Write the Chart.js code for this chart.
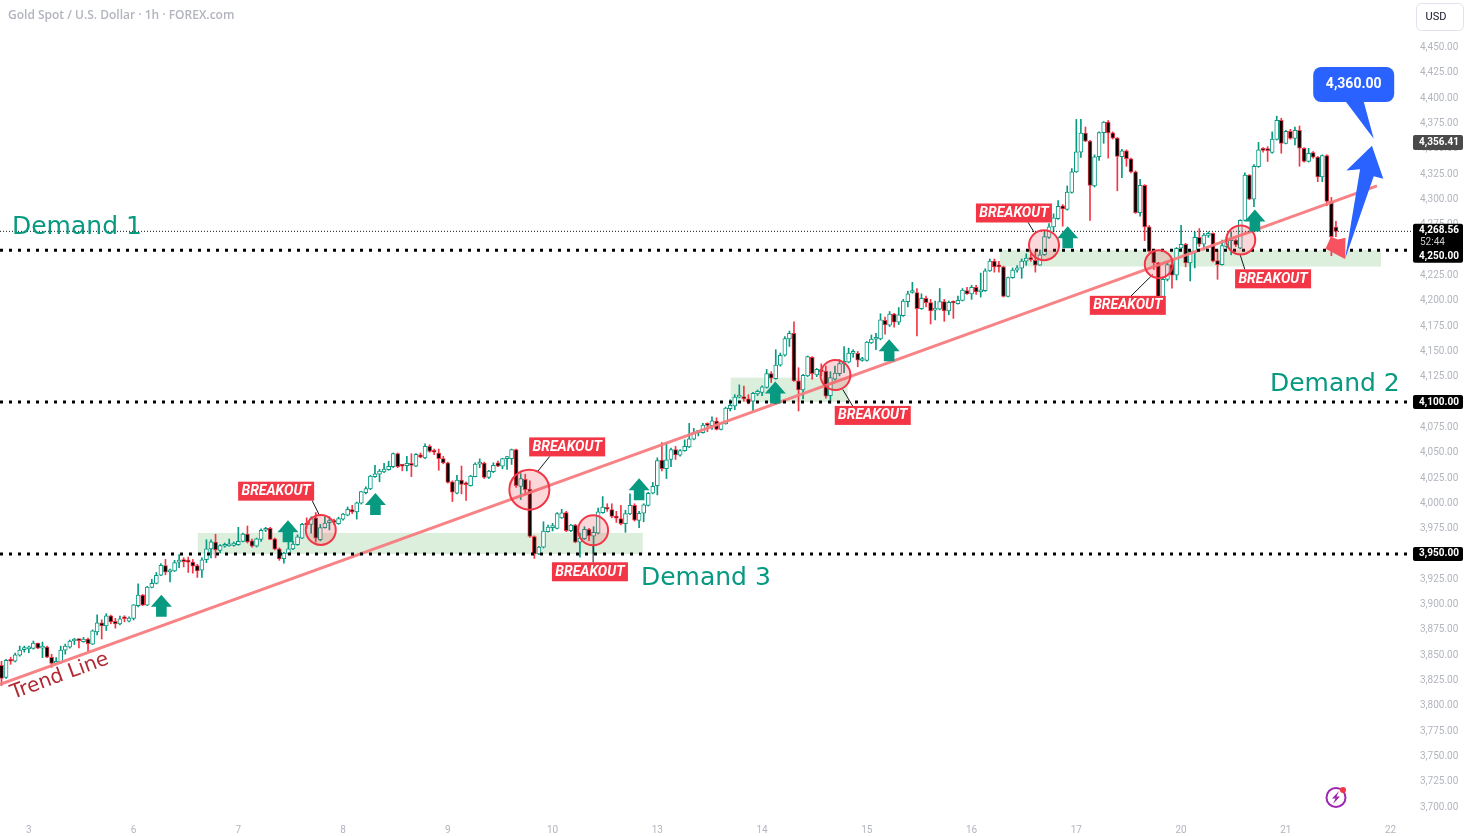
<!DOCTYPE html>
<html>
<head>
<meta charset="utf-8">
<title>Gold Spot / U.S. Dollar</title>
<script src="https://cdn.jsdelivr.net/npm/chart.js@4"></script>
<style>
  html, body { margin: 0; padding: 0; background: #fff; overflow: hidden; }
  canvas { display: block; }
</style>
</head>
<body>
<canvas id="chart" width="1468" height="836"></canvas>
<script>
// hourly candles, oldest first
const opens = [
  3840,3828,3845,3844,3850,3855.5,3856.3,3856.6,3862,3857,
  3858,3848,3842,3843,3855,3858,3864,3864.7,3863.4,3866,
  3861,3873,3882,3879,3889,3883.5,3881,3886.4,3883.5,3886.4,
  3899,3909.4,3899.3,3917,3921,3929,3938.5,3932.3,3933.3,3942,
  3942.7,3942.4,3942,3938.5,3934,3944.3,3955,3961.8,3953.4,3957.6,
  3957.9,3958.5,3959.2,3962.4,3969.5,3963,3957.6,3964.4,3973.4,3975.4,
  3965,3955,3945.3,3950.4,3955,3959.2,3965.7,3979.2,3979.2,3985.7,
  3964,3976,3980.9,3981.8,3980,3984.4,3988.3,3993.8,3991.5,4000.2,
  4010.5,4014.1,4026.4,4028.7,4031,4033.2,4036.1,4049,4037,4037.1,
  4039.4,4036.8,4047.8,4044.9,4056.2,4051.3,4049.7,4044.2,4040,4021.3,
  4009.9,4022.9,4019.3,4017.4,4026.4,4038.7,4039.7,4025.5,4031.3,4040,
  4036.8,4044.2,4044.2,4053,4016.7,4023.8,4014.1,3967.2,3950.1,3956.6,
  3972,3976,3975.3,3985.7,3990.8,3973,3978.6,3961.7,3965,3974.3,
  3967.5,3970.5,3990.8,3995.7,3993.8,3987,3985,3979.8,3989.6,3998,
  3983.1,3990.2,3998,4009.9,4017.4,4042.6,4034.2,4043.3,4053,4047.5,
  4052,4055.6,4063.3,4069.8,4069.8,4077.3,4076.6,4081.1,4073,4078.5,
  4093.4,4096.3,4104.8,4105.4,4103.1,4100.9,4108,4109.6,4114.5,4128,
  4123.2,4136.5,4146.2,4162.3,4167.8,4120.9,4111.9,4125.8,4144.2,4126.7,
  4131.3,4130.6,4106.4,4122.5,4128,4137.7,4139.4,4148.1,4148.1,4141,
  4141,4158.5,4162,4162.3,4180.8,4176,4186.8,4178.8,4185.2,4199.1,
  4208.2,4208.2,4192.3,4202.4,4198.2,4190.7,4191.7,4199.1,4190.1,4198.5,
  4197.2,4200.4,4210.1,4206.9,4213.4,4208.8,4209.9,4229.6,4239.3,4234.2,
  4233.5,4204.4,4222.8,4230.3,4232.2,4239,4242.2,4240,4235.1,4245.5,
  4262.6,4273,4281,4293.7,4290.1,4306.9,4327.3,4346.7,4365.5,4357.7,
  4313.4,4342.2,4366.1,4376.5,4365.8,4360.6,4342.2,4348,4340.3,4327.3,
  4286.9,4314,4273,4248.7,4237.4,4201.8,4221.2,4235.8,4225.4,4251.9,
  4255.8,4237.4,4248,4262.6,4255.8,4264.5,4266.5,4239.6,4235.7,4253.5,
  4259.4,4260,4251.9,4279.4,4324.1,4300.4,4332.5,4349,4349,4346.4,
  4359.3,4378.1,4355.4,4367.4,4360.3,4368.4,4350.6,4337.6,4346.4,4341.9,
  4322.4,4343.5,4298.2,4272.9
];
const highs = [
  3844,3846,3848,3852,3859,3859,3859,3864,3862,3863,
  3859,3851,3847.6,3859,3861,3865,3866.7,3865.4,3867.6,3867,
  3875,3890,3885,3891,3889.6,3886.4,3888.7,3889,3888,3900,
  3920.4,3910,3918,3925,3931.7,3940.4,3944.6,3935,3943.7,3949.5,
  3946.2,3946.9,3944.6,3939.8,3946.2,3964,3964,3969.5,3959.2,3960.8,
  3964.7,3961.8,3976.3,3970.5,3977.6,3964.7,3965.7,3974.7,3976.3,3976.3,
  3965.7,3956,3951.7,3962.4,3962.4,3968.9,3980.2,3985.7,3986.7,3990.9,
  3979.2,3986.7,3986.7,3984.4,3986.4,3990,3996.4,3998,4001.2,4011.9,
  4016.4,4027.7,4037.4,4033.5,4039.4,4041.6,4049.7,4049.7,4037.7,4046.5,
  4049,4049,4049.7,4058.8,4057.8,4053.6,4053.6,4046.5,4040.7,4022.2,
  4027.7,4036.8,4021.3,4027.7,4040,4043.9,4040.7,4032.6,4040,4041.6,
  4044.5,4046.5,4053.6,4053.6,4029.3,4028.7,4022.2,3967.9,3957.5,3981.8,
  3978.6,3980.2,3990.8,3994.1,3992.1,3979.2,3979.2,3970.5,3976.9,3975.3,
  3976.9,3995.4,4006.7,3999.6,3999.6,3992.1,3998,3993.1,4009.3,3999.6,
  3992.1,3999.6,4010.9,4020.6,4044.9,4060.1,4059.8,4054.6,4056.2,4053,
  4062.7,4078.9,4074,4071.8,4078.9,4079.5,4085.3,4084.4,4079.5,4095,
  4102.2,4107.3,4117,4115.7,4107.3,4109.6,4111.9,4116.1,4132.2,4130,
  4151.7,4148.4,4164.6,4170.1,4179.2,4133.9,4127.4,4145.5,4144.9,4133.2,
  4137.7,4135.5,4130,4135.5,4142,4154.9,4153.3,4151.7,4150,4144.2,
  4159.7,4166.2,4167.8,4187.2,4184,4189.4,4187.5,4193.3,4201.4,4209.5,
  4218.2,4212.1,4206.9,4204.6,4201.4,4199.8,4212.1,4201.4,4199.8,4199.8,
  4204.6,4212.1,4213.4,4215.3,4215.3,4227.3,4231.6,4241.3,4241.3,4239,
  4234.2,4223.5,4232.5,4234.8,4241.3,4246.4,4246.4,4248.7,4250.3,4268.1,
  4276.2,4285.9,4298.9,4295,4313.4,4330.6,4379.1,4379.1,4371.6,4358.4,
  4344.1,4366.8,4377.1,4378.1,4366.8,4361.3,4349.6,4349,4340.9,4328.3,
  4319.9,4314.7,4274.3,4249.3,4238,4222.8,4237.4,4240,4252.6,4274.6,
  4256.8,4250.3,4268.1,4271.3,4266.5,4268.1,4267.1,4250.3,4260,4262.6,
  4268.1,4261,4280,4326.3,4324.7,4334.4,4356.4,4351.2,4352.2,4366.8,
  4382.3,4380.3,4368.4,4369.3,4371.6,4372.6,4351.2,4350.6,4347.4,4342.5,
  4344.1,4344.1,4302.1,4278.4
];
const lows = [
  3820,3827,3841,3843.5,3849,3853,3852.4,3856,3856.5,3847.6,
  3847.6,3838,3842,3842,3851,3857,3860.5,3857.3,3862.8,3854,
  3860.5,3870,3866,3874.4,3881,3876.7,3880,3883,3883,3884.8,
  3897.7,3899,3899,3916.5,3920.4,3928.5,3929.4,3922.3,3932.6,3936.5,
  3937.2,3931.7,3931,3926.8,3926.8,3941.4,3946.2,3946.2,3951,3956.6,
  3957.6,3957.6,3958.5,3961.8,3960.8,3956.6,3956.9,3962.4,3972,3964,
  3954,3943.7,3941,3949.5,3954.3,3958.5,3965,3975.4,3970.5,3961.8,
  3963,3975.4,3973.7,3979.2,3979.2,3983.4,3987.6,3989.9,3984.4,3999.3,
  4009.3,4013.5,4025.5,4021.3,4030.3,4032.6,4035.2,4035.2,4032,4031.9,
  4026.4,4036.1,4044.9,4044.2,4050.4,4048.1,4032.6,4039,4020,4001.8,
  4009.3,4009.3,4002.8,4017,4026.1,4035.2,4024.5,4024.5,4030.3,4036.1,
  4034.2,4033.5,4038.4,4015.8,4003.8,4008.3,3966.3,3945.6,3949.4,3955.9,
  3971.4,3972.7,3974.7,3985,3972,3972,3961,3946.8,3964.3,3963,
  3950,3969.8,3990.2,3992.1,3985.7,3981.1,3978.6,3971.4,3988.9,3982.4,
  3976,3981.8,3997.3,4009.3,4008.3,4032,4024.5,4036.2,4043.3,4046.5,
  4051.4,4055,4062.7,4066.6,4069.2,4070.8,4073,4072.4,4072.4,4078.2,
  4091.2,4092.5,4104.1,4100.9,4098.3,4091.2,4106.4,4106.4,4113.8,4119.3,
  4122.5,4135.5,4145.2,4154.9,4120.3,4091.2,4103.1,4125.1,4122.5,4125.1,
  4125.8,4103.8,4098.9,4121.6,4125.8,4129,4138.7,4144.2,4134.8,4140.3,
  4140.3,4157.8,4151.7,4161.4,4167,4174.6,4173.9,4176.5,4184.6,4194,
  4207.5,4165.2,4191.4,4194,4177.1,4181,4191,4179.7,4186.2,4182.6,
  4196.6,4199.8,4206.3,4201.4,4206.3,4203.7,4209.2,4229,4228.3,4228.3,
  4203.7,4203.7,4222.2,4228.3,4222.2,4235.1,4239,4228.3,4234.8,4244.8,
  4261.6,4268.1,4280.4,4273.6,4289.5,4306.3,4326.7,4341.6,4357.1,4279.4,
  4312.4,4338.6,4355.5,4340.9,4359.7,4308.6,4321.5,4332.8,4326.3,4286.2,
  4283.6,4259.4,4248,4230.9,4200.2,4187.2,4219.6,4212.5,4220.6,4250.3,
  4233.5,4219.6,4232.5,4253.5,4250.3,4262.6,4238.3,4221.2,4235.1,4251.9,
  4245.4,4253.5,4251.3,4278.8,4299.8,4293,4331.8,4346.7,4337.6,4345.7,
  4358.7,4345.7,4354.8,4359.6,4353.8,4332.8,4337,4337,4340.9,4317.6,
  4317.6,4294,4244.5,4263.2
];
const closes = [
  3827,3845,3844,3850.5,3855,3856.5,3857,3862,3857,3858,
  3848,3842,3843.4,3855,3859,3864,3864.7,3864.4,3866,3861.5,
  3874,3882,3879,3889,3883,3881,3886,3886,3886.7,3899.7,
  3909.4,3899.3,3917.4,3921,3929,3938.8,3932,3934,3941.4,3942.7,
  3942.4,3942,3938,3933.3,3944.3,3955,3962,3954,3958.2,3958.5,
  3958.5,3960.8,3962.4,3969.5,3962,3957.6,3965,3973.4,3975.4,3964.4,
  3954.6,3945,3950.8,3955,3959.8,3967,3979.2,3978.6,3985,3965.7,
  3976,3980.5,3981.8,3981.2,3985,3989.3,3994,3991.5,4000.5,4011.5,
  4014.5,4026.8,4029,4031.9,4033.9,4036.5,4049,4036.1,4036.8,4039.4,
  4037.4,4048.4,4045.5,4056.2,4051.3,4050.4,4044.2,4040,4020.6,4010.9,
  4022.9,4018.7,4018.3,4026.8,4038.7,4040,4025.5,4031.9,4037.4,4036.8,
  4044.2,4044.9,4053,4017.4,4024.5,4013.5,3967.2,3950.1,3956.9,3972.7,
  3976.6,3976.9,3989.9,3990.5,3973,3978.6,3961.7,3965.6,3974.3,3967.9,
  3971.4,3991.5,3996.4,3994.1,3987,3985.3,3979.8,3989.9,3998,3983.4,
  3990.2,3998.6,4009.9,4016.7,4042.3,4034.2,4043,4053,4047.8,4052,
  4056.2,4063.7,4069.8,4070.5,4077.3,4076.9,4081.5,4073,4078.9,4094.1,
  4096.7,4104.8,4105.4,4103.1,4099.9,4108.6,4110.6,4115.1,4128,4123.5,
  4136.5,4146.2,4162.7,4167.8,4120.9,4111.9,4126.4,4144.9,4128,4132.2,
  4130,4105.7,4124.2,4128.7,4138,4140.3,4148.4,4148.7,4141.3,4141.6,
  4159.1,4162.3,4163,4181.1,4176.2,4186.8,4178.8,4186.2,4199.8,4206.9,
  4208.8,4192.3,4202.4,4198.2,4190.1,4191.7,4199.1,4190.1,4198.5,4197.8,
  4200.4,4210.5,4206.9,4213.4,4208.8,4210.5,4229.6,4239.3,4233.5,4233.5,
  4204.4,4222.8,4230.3,4232.5,4239.3,4242.2,4240.6,4235.1,4245.5,4263.3,
  4273,4282,4293.3,4290.8,4307.3,4327.3,4347,4365.5,4357.7,4314,
  4342.2,4366.1,4376.5,4365.8,4360.6,4342.5,4348,4340.3,4327.3,4286.9,
  4314,4273,4248.7,4237.4,4201.8,4221.2,4235.8,4225.4,4251.9,4255.8,
  4237.4,4248.7,4262.6,4255.8,4264.9,4266.5,4239,4235.7,4254.5,4260,
  4261.6,4255.2,4279.4,4324.1,4300.4,4332.8,4349,4348.6,4348.3,4359.6,
  4378.1,4355.4,4367.4,4360.3,4368.4,4350.6,4337.6,4345.7,4341.9,4322.4,
  4343.5,4298.2,4263.2,4268.56
];

// time axis: candle index where each day starts, and its label
const dayIndex = [6, 29, 52, 75, 98, 121, 144, 167, 190, 213, 236, 259, 282, 305];
const dayLabels = ['3', '6', '7', '8', '9', '10', '13', '14', '15', '16', '17', '20', '21', '22'];
const priceTicks = [
  3700,3725,3750,3775,3800,3825,3850,3875,3900,3925,3950,3975,4000,4025,4050,4075,
  4100,4125,4150,4175,4200,4225,4250,4275,4300,4325,4350,4375,4400,4425,4450
];

const lastPrice = 4268.56;
const prevHigh = 4356.41;
const targetPrice = 4360;
const supportLevels = [4250, 4100, 3950];
const trendIdx = [-0.33, 302];
const trendPrice = [3821.3, 4313.4];

// drawings, all anchored as [candle index, price]
const zones = [[43.1, 140.8, 3970.8, 3950], [160.1, 185.8, 4124.1, 4100], [219.2, 302.9, 4250, 4233.8]];
const circles = [
  [70.1, 3973.7, 15], [115.9, 4013.5, 20], [129.9, 3973.4, 15], [183.1, 4126.7, 15],
  [228.9, 4254.9, 15], [254.1, 4236.2, 14], [272.1, 4260, 14.5]
];
const breakoutTags = [
  [60.3, 4012], [124.2, 4055.7], [129.2, 3932.4], [191.3, 4086.8],
  [222.3, 4286.7], [247.3, 4195.5], [279.2, 4221.7]
];
const leaders = [
  [68.2, 4002.8, 69.9, 3987.3], [120.4, 4046.5, 117.8, 4031.9], [129.9, 3958.1, 129.9, 3941.6],
  [184.7, 4112.5, 186.9, 4096], [225.4, 4277.5, 226.7, 4267.8], [248, 4204.7, 252.8, 4226],
  [271.9, 4246.4, 273, 4230.9]
];
const upArrows = [
  [35.1, 3909.6], [62.9, 3983.4], [82.1, 4010.3], [140, 4024.8],
  [169.9, 4120.2], [194.9, 4162], [234.1, 4273.6], [275.2, 4290.1]
];
const demandLabels = [['Demand 1', 2.3, 4272], ['Demand 2', 278.5, 4117], ['Demand 3', 140.4, 3926]];
const blueArrow = [[295, 4241.3], [298.3, 4329.9], [295.3, 4328.6], [300.9, 4353.2], [303.4, 4320.5], [301.3, 4323.1]];
const pinkArrow = [[291.9, 4263.2], [293.4, 4260.5], [295.1, 4262.2], [295, 4241.3], [290.7, 4251.3]];
const calloutAnchor = [296.9, 4413.6];

const UP = '#089981';
const DOWN = '#f23645';
const AXIS_TEXT = '#b2b5be';

const idx = opens.map((_, i) => i);
const isUp = i => closes[i] >= opens[i];
const fmt = v => v.toLocaleString('en-US', { minimumFractionDigits: 2, maximumFractionDigits: 2 });

// everything that isn't a candle or a straight line goes on the canvas here
const zonesPlugin = {
    id: 'zones',
    beforeDatasetsDraw(chart) {
        const { ctx, scales: { x, y } } = chart;
        ctx.save();
        ctx.fillStyle = 'rgba(76, 175, 80, 0.2)';
        zones.forEach(z => {
            ctx.fillRect(x.getPixelForValue(z[0]), y.getPixelForValue(z[2]),
                x.getPixelForValue(z[1]) - x.getPixelForValue(z[0]),
                y.getPixelForValue(z[3]) - y.getPixelForValue(z[2]));
        });
        ctx.restore();
    }
};

function poly(ctx, x, y, pts, color) {
    ctx.fillStyle = color;
    ctx.beginPath();
    pts.forEach((p, i) => {
        const px = x.getPixelForValue(p[0]), py = y.getPixelForValue(p[1]);
        if (i === 0) ctx.moveTo(px, py); else ctx.lineTo(px, py);
    });
    ctx.closePath();
    ctx.fill();
}

function badge(ctx, top, h, color) {
    ctx.fillStyle = color;
    ctx.beginPath();
    ctx.roundRect(1413, top, 50, h, 2);
    ctx.fill();
}

const drawingsPlugin = {
    id: 'drawings',
    afterDatasetsDraw(chart) {
        const { ctx, scales: { x, y } } = chart;
        ctx.save();

        // leader lines from the tags to the circles
        ctx.strokeStyle = '#131722';
        ctx.lineWidth = 1;
        leaders.forEach(l => {
            ctx.beginPath();
            ctx.moveTo(x.getPixelForValue(l[0]), y.getPixelForValue(l[1]));
            ctx.lineTo(x.getPixelForValue(l[2]), y.getPixelForValue(l[3]));
            ctx.stroke();
        });

        circles.forEach(c => {
            ctx.beginPath();
            ctx.arc(x.getPixelForValue(c[0]), y.getPixelForValue(c[1]), c[2], 0, Math.PI * 2);
            ctx.fillStyle = 'rgba(242, 54, 69, 0.2)';
            ctx.fill();
            ctx.strokeStyle = DOWN;
            ctx.lineWidth = 2;
            ctx.stroke();
        });

        // green up arrows
        ctx.fillStyle = UP;
        upArrows.forEach(a => {
            const px = x.getPixelForValue(a[0]), py = y.getPixelForValue(a[1]);
            ctx.beginPath();
            ctx.moveTo(px, py);
            ctx.lineTo(px + 10.5, py + 12);
            ctx.lineTo(px + 5.3, py + 12);
            ctx.lineTo(px + 5.3, py + 22);
            ctx.lineTo(px - 5.3, py + 22);
            ctx.lineTo(px - 5.3, py + 12);
            ctx.lineTo(px - 10.5, py + 12);
            ctx.closePath();
            ctx.fill();
        });

        ctx.textAlign = 'center';
        ctx.textBaseline = 'middle';

        breakoutTags.forEach(t => {
            const px = x.getPixelForValue(t[0]), py = y.getPixelForValue(t[1]);
            ctx.fillStyle = DOWN;
            ctx.fillRect(px - 38, py - 9.5, 76, 19);
            ctx.fillStyle = '#fff';
            ctx.font = 'italic 700 14px Roboto';
            ctx.fillText('BREAKOUT', px, py + 0.5);
        });

        ctx.fillStyle = UP;
        ctx.font = '25px "DejaVu Sans"';
        demandLabels.forEach(d => {
            ctx.textAlign = 'left';
            ctx.fillText(d[0], x.getPixelForValue(d[1]), y.getPixelForValue(d[2]));
        });

        // label running along the trend line
        ctx.save();
        ctx.translate(x.getPixelForValue(12.8), y.getPixelForValue(3829));
        ctx.rotate(-20.2 * Math.PI / 180);
        ctx.textAlign = 'center';
        ctx.fillStyle = '#b22833';
        ctx.font = '20px "DejaVu Sans"';
        ctx.fillText('Trend Line', 0, 0);
        ctx.restore();

        poly(ctx, x, y, pinkArrow, '#f7525f');
        poly(ctx, x, y, blueArrow, '#2962ff');

        // target callout with its pointer
        const cx = x.getPixelForValue(calloutAnchor[0]), cy = y.getPixelForValue(calloutAnchor[1]);
        ctx.fillStyle = '#2962ff';
        ctx.beginPath();
        ctx.roundRect(cx - 40.5, cy - 17.5, 81, 35, 8);
        ctx.fill();
        ctx.beginPath();
        ctx.moveTo(cx - 8, cy + 17);
        ctx.lineTo(x.getPixelForValue(301.3), y.getPixelForValue(targetPrice));
        ctx.lineTo(cx + 10, cy + 17);
        ctx.closePath();
        ctx.fill();
        ctx.fillStyle = '#fff';
        ctx.textAlign = 'center';
        ctx.font = '700 14px Roboto';
        ctx.fillText(fmt(targetPrice), cx, cy);

        // header text
        ctx.textAlign = 'left';
        ctx.fillStyle = AXIS_TEXT;
        ctx.font = '600 12px "Open Sans"';
        ctx.fillText('Gold Spot / U.S. Dollar · 1h · FOREX.com', 8, 16);

        // currency button over the top of the price axis
        ctx.fillStyle = '#fff';
        ctx.strokeStyle = '#e0e3eb';
        ctx.lineWidth = 1;
        ctx.beginPath();
        ctx.roundRect(1416.5, 3.5, 47, 27, 5);
        ctx.fill();
        ctx.stroke();
        ctx.fillStyle = '#131722';
        ctx.font = '11px Roboto';
        ctx.textAlign = 'center';
        ctx.fillText('USD', 1436, 17);

        // price badges on the axis
        ctx.font = '700 10px Roboto';
        ctx.textAlign = 'center';
        const highY = y.getPixelForValue(prevHigh);
        badge(ctx, highY - 7.5, 15, '#4a4a4a');
        ctx.fillStyle = '#fff';
        ctx.fillText(fmt(prevHigh), 1439, highY + 0.5);

        const lastY = y.getPixelForValue(lastPrice);
        badge(ctx, lastY - 7.5, 39, '#000');
        ctx.fillStyle = '#fff';
        ctx.fillText(fmt(lastPrice), 1439, lastY - 0.5);
        ctx.font = '10px Roboto';
        ctx.fillStyle = '#c8c8c8';
        ctx.textAlign = 'left';
        ctx.fillText('52:44', 1420, lastY + 11);
        ctx.font = '700 10px Roboto';
        ctx.fillStyle = '#fff';
        ctx.textAlign = 'center';
        ctx.fillText(fmt(supportLevels[0]), 1439, lastY + 25);

        supportLevels.slice(1).forEach(v => {
            const ly = y.getPixelForValue(v);
            badge(ctx, ly - 7, 14, '#000');
            ctx.fillStyle = '#fff';
            ctx.fillText(fmt(v), 1439, ly);
        });

        // alert icon
        ctx.strokeStyle = '#9c27b0';
        ctx.lineWidth = 2;
        ctx.beginPath();
        ctx.arc(1336, 797.5, 9.5, 0, Math.PI * 2);
        ctx.stroke();
        ctx.fillStyle = '#9c27b0';
        ctx.beginPath();
        ctx.moveTo(1339, 791);
        ctx.lineTo(1332, 798.5);
        ctx.lineTo(1335.5, 798.5);
        ctx.lineTo(1333, 804);
        ctx.lineTo(1340, 796.5);
        ctx.lineTo(1336.5, 796.5);
        ctx.closePath();
        ctx.fill();
        ctx.fillStyle = DOWN;
        ctx.beginPath();
        ctx.arc(1343, 790, 3, 0, Math.PI * 2);
        ctx.fill();

        ctx.restore();
    }
};

new Chart(document.getElementById('chart'), {
    type: 'bar',
    plugins: [zonesPlugin, drawingsPlugin],
    data: {
        datasets: [
            ...supportLevels.map(v => ({
                type: 'line',
                data: [{ x: -0.33, y: v }, { x: 309.7, y: v }],
                borderColor: '#000',
                borderWidth: 3,
                borderDash: [3, 6],
                pointRadius: 0,
                order: 1
            })),
            {
                type: 'line',
                data: [{ x: -0.33, y: lastPrice }, { x: 309.7, y: lastPrice }],
                borderColor: '#131722',
                borderWidth: 1,
                borderDash: [1, 2],
                pointRadius: 0,
                order: 2
            },
            {
                type: 'line',
                data: trendIdx.map((v, i) => ({ x: v, y: trendPrice[i] })),
                borderColor: 'rgba(247, 124, 128, 0.95)',
                borderWidth: 3,
                pointRadius: 0,
                order: 3
            },
            {
                // candle bodies: hollow when up, dark when down
                data: idx.map(i => ({ x: i, y: [opens[i], closes[i]] })),
                grouped: false,
                barThickness: 4,
                minBarLength: 2,
                borderWidth: 1,
                borderSkipped: false,
                backgroundColor: idx.map(i => isUp(i) ? '#fff' : '#000'),
                borderColor: idx.map(i => isUp(i) ? UP : DOWN),
                order: 4
            },
            {
                // wicks
                data: idx.map(i => ({ x: i, y: [lows[i], highs[i]] })),
                grouped: false,
                barThickness: 1,
                backgroundColor: idx.map(i => isUp(i) ? UP : DOWN),
                order: 5
            }
        ]
    },
    options: {
        responsive: false,
        animation: false,
        layout: { padding: 0 },
        plugins: { legend: { display: false }, tooltip: { enabled: false } },
        scales: {
            x: {
                type: 'linear',
                offset: false,
                min: -0.33,
                max: 309.7,
                grid: { display: false },
                border: { display: false },
                afterFit: s => { s.height = 22; },
                afterBuildTicks: s => { s.ticks = dayIndex.map(v => ({ value: v })); },
                ticks: {
                    autoSkip: false,
                    maxRotation: 0,
                    padding: 2,
                    color: AXIS_TEXT,
                    font: { family: 'Roboto', size: 10 },
                    callback: v => dayLabels[dayIndex.indexOf(v)]
                }
            },
            y: {
                position: 'right',
                min: 3693.2,
                max: 4483.2,
                grid: { display: false, drawTicks: false },
                border: { display: false },
                afterFit: s => { s.width = 56; },
                afterBuildTicks: s => { s.ticks = priceTicks.map(v => ({ value: v })); },
                ticks: {
                    autoSkip: false,
                    padding: 8,
                    color: AXIS_TEXT,
                    font: { family: 'Roboto', size: 10 },
                    callback: v => fmt(v)
                }
            }
        }
    }
});
</script>
</body>
</html>
